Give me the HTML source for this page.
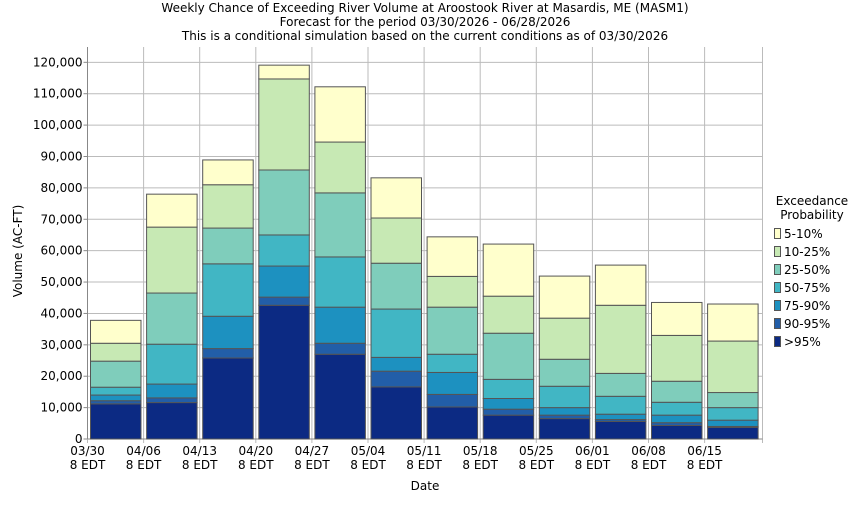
<!DOCTYPE html><html><head><style>body{margin:0;background:#fff}svg{font-family:"DejaVu Sans","Liberation Sans",sans-serif}</style></head><body>
<svg id="s" width="850" height="500" xmlns="http://www.w3.org/2000/svg">
<text x="425" y="12" font-size="12" text-anchor="middle">Weekly Chance of Exceeding River Volume at Aroostook River at Masardis, ME (MASM1)</text>
<text x="425" y="26" font-size="12" text-anchor="middle">Forecast for the period 03/30/2026 - 06/28/2026</text>
<text x="425" y="40" font-size="12" text-anchor="middle">This is a conditional simulation based on the current conditions as of 03/30/2026</text>
<text x="425" y="490" font-size="12" text-anchor="middle">Date</text>
<text transform="translate(22,251) rotate(-90)" font-size="12" text-anchor="middle">Volume (AC-FT)</text>
<text x="812" y="205" font-size="12" text-anchor="middle">Exceedance</text>
<text x="812" y="219" font-size="12" text-anchor="middle">Probability</text>
</svg>
<script>
const s=document.getElementById('s'),NS='http://www.w3.org/2000/svg';
function el(t,a,txt){const e=document.createElementNS(NS,t);for(const k in a)e.setAttribute(k,a[k]);if(txt!=null)e.textContent=txt;s.appendChild(e);return e}
const L=87.5,R=762.5,T=47,B=439,k=3.139;
const y=v=>B-v*k;
for(let i=0;i<=12;i++){const yy=y(i*10);el('line',{x1:L,x2:R,y1:yy,y2:yy,stroke:'#bbb'});el('line',{x1:L-4,x2:L,y1:yy,y2:yy,stroke:'#888'});el('text',{x:L-5,y:yy+4,'font-size':12,'text-anchor':'end'},i==0?'0':(i*10)+',000')}
const dates=['03/30','04/06','04/13','04/20','04/27','05/04','05/11','05/18','05/25','06/01','06/08','06/15'];
const sp=56.1;
for(let i=0;i<12;i++){const x=L+i*sp;el('line',{x1:x,x2:x,y1:T,y2:B+4,stroke:'#bbb'});el('text',{x:x,y:455,'font-size':12,'text-anchor':'middle'},dates[i]);el('text',{x:x,y:469,'font-size':12,'text-anchor':'middle'},'8 EDT')}
el('line',{x1:R,x2:R,y1:T,y2:B+4,stroke:'#bbb'});
el('line',{x1:L,x2:L,y1:T,y2:B,stroke:'#888'});el('line',{x1:L,x2:R,y1:B,y2:B,stroke:'#888'});
const cols=['#0c2a83','#225ea8','#1d91c0','#41b6c4','#7fcdbb','#c7e9b4','#ffffcc'];
const D=[[11.2,12.2,14.0,16.5,24.8,30.5,37.8],[11.6,13.1,17.5,30.2,46.5,67.5,78.0],[25.8,28.8,39.1,55.8,67.2,81.0,88.9],[42.6,45.2,55.1,65.0,85.7,114.7,119.1],[27.0,30.5,42.0,58.0,78.4,94.6,112.2],[16.6,21.6,26.0,41.4,56.0,70.4,83.2],[10.2,14.2,21.2,27.0,42.0,51.8,64.4],[7.6,9.5,12.9,19.0,33.7,45.5,62.1],[6.5,7.6,10.0,16.8,25.4,38.5,51.9],[5.6,6.2,7.9,13.6,20.9,42.6,55.4],[4.3,5.2,7.6,11.7,18.4,33.0,43.5],[3.7,4.0,6.0,10.0,14.8,31.2,43.0]];
D.forEach((d,i)=>{const x=L+3+i*sp;let p=0;d.forEach((v,j)=>{el('rect',{x:x,y:y(v),width:50.5,height:(v-p)*k,fill:cols[j],stroke:'#555','stroke-width':1});p=v})});
const labs=['5-10%','10-25%','25-50%','50-75%','75-90%','90-95%','>95%'];
labs.forEach((l,i)=>{const yy=228+i*18;el('rect',{x:774.5,y:yy+0.5,width:6,height:10,fill:cols[6-i],stroke:'#555'});el('text',{x:784,y:yy+10,'font-size':12},l)});
</script></body></html>
